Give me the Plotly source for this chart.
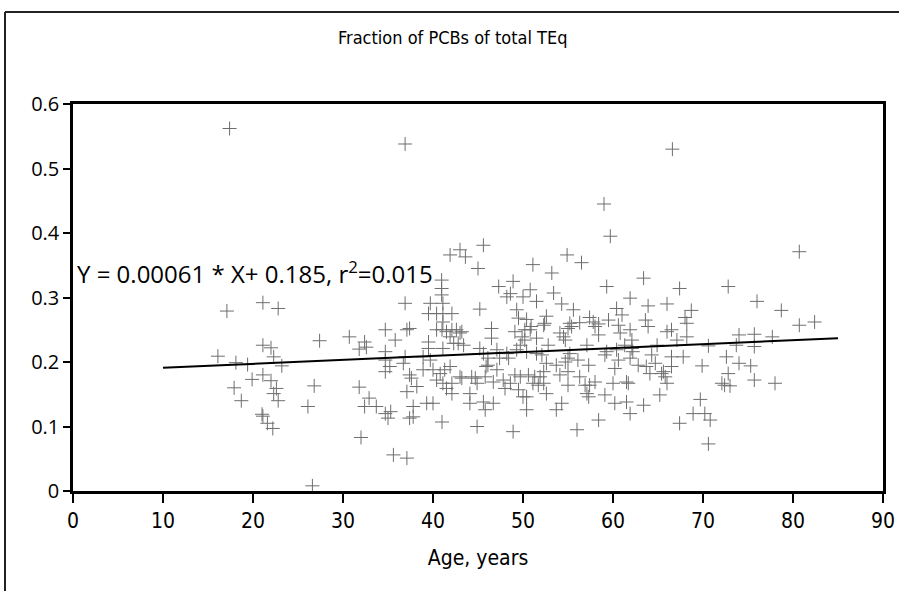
import plotly.graph_objects as go

# ---- data ----
ages = [
    17.4, 17.1, 21.1, 22.8, 16.1, 18.1, 19.4, 21.1, 22.0, 22.3, 19.9, 21.1, 22.0, 22.6, 17.9, 18.7,
    22.3, 22.8, 21.0, 21.1, 21.6, 22.2, 23.2,
    27.4, 26.8, 26.1, 26.6, 30.7, 31.8, 32.4, 32.6, 31.8, 32.9, 32.4, 33.7, 34.7, 35.0, 35.3, 32.0,
    34.7, 35.8, 34.7, 34.7, 35.2, 34.7, 36.9, 36.9, 36.7, 37.1, 37.4, 37.4, 37.6, 38.2, 37.1, 37.8,
    37.8, 37.4, 35.6, 37.1, 36.9,
    40.96, 40.96, 40.96, 41.1, 39.7, 39.5, 40.4, 41.1, 42.1, 41.1, 41.0, 40.4, 41.5, 42.1, 42.6, 43.2,
    39.5, 39.5, 41.1, 42.3, 42.8, 43.4, 38.9, 40.0, 40.8, 41.3, 41.9, 40.4, 41.1, 42.1, 41.5, 42.1,
    43.2, 39.3, 40.0, 41.0, 38.9, 39.7, 41.9, 43.0, 43.6, 45.6, 45.0, 45.2, 47.3, 48.2, 48.9, 48.6,
    49.3, 43.0, 41.9, 45.2, 45.6, 46.1, 47.1, 48.2, 49.3, 47.4, 48.4, 46.1, 45.9, 47.1, 43.0, 44.3,
    44.9, 44.7, 45.8, 46.7, 47.8, 48.6, 44.1, 44.1, 45.6, 46.7, 45.8, 44.9, 48.9, 46.5, 46.5, 48.0,
    59.7, 54.9, 56.5, 51.1, 53.2, 50.8, 50.0, 51.5, 53.4, 54.3, 55.6, 59.3, 63.4, 61.9, 60.4, 61.0,
    63.9, 66.0, 49.5, 50.4, 52.6, 52.4, 52.3, 55.2, 55.0, 55.4, 56.3, 57.4, 57.8, 58.4, 58.0, 59.5,
    60.6, 61.9, 62.1, 60.8, 63.6, 63.9, 66.0, 49.1, 50.2, 50.8, 50.9, 51.5, 49.9, 50.2, 49.7, 54.1,
    54.5, 54.7, 58.4, 52.8, 57.1, 50.4, 51.5, 52.1, 55.2, 55.0, 56.1, 57.3, 59.1, 59.3, 60.4, 60.6,
    60.2, 61.3, 62.1, 62.2, 61.9, 62.8, 63.7, 64.3, 64.1, 64.9, 64.7, 65.6, 66.0, 65.8, 52.6, 53.7,
    54.7, 54.1, 55.0, 49.1, 49.7, 50.6, 51.3, 51.9, 52.3, 51.1, 51.7, 52.3, 49.5, 50.0, 50.4, 52.6,
    50.4, 55.0, 56.3, 56.9, 57.4, 58.0, 57.1, 57.3, 59.1, 60.0, 61.5, 61.7, 60.2, 61.5, 61.9, 63.4,
    65.2, 54.3, 53.7, 56.0, 58.4, 59.0, 66.6, 80.7,
    67.4, 72.8, 76.0, 78.7, 80.7, 82.4, 68.7, 68.0, 68.2, 66.5, 67.1, 68.2, 70.6, 73.7, 74.0, 75.7,
    75.7, 77.7, 65.4, 66.5, 66.5, 67.8, 69.9, 72.6, 74.0, 75.3, 72.8, 72.1, 73.0, 72.4, 75.7, 78.0,
    69.7, 68.9, 70.2, 70.8, 67.4, 70.6,
]
fractions = [
    0.562, 0.279, 0.292, 0.283, 0.209, 0.199, 0.196, 0.226, 0.222, 0.208, 0.173, 0.180, 0.171, 0.159, 0.160, 0.140,
    0.151, 0.140, 0.119, 0.116, 0.105, 0.097, 0.194,
    0.233, 0.163, 0.131, 0.008, 0.239, 0.220, 0.231, 0.223, 0.161, 0.144, 0.131, 0.131, 0.120, 0.113, 0.123, 0.083,
    0.250, 0.234, 0.216, 0.203, 0.193, 0.185, 0.291, 0.208, 0.198, 0.250, 0.252, 0.180, 0.175, 0.162, 0.154, 0.131,
    0.115, 0.113, 0.056, 0.051, 0.538,
    0.327, 0.314, 0.304, 0.291, 0.291, 0.275, 0.275, 0.275, 0.275, 0.262, 0.250, 0.250, 0.247, 0.250, 0.250, 0.247,
    0.231, 0.221, 0.221, 0.229, 0.229, 0.226, 0.188, 0.188, 0.182, 0.188, 0.193, 0.172, 0.167, 0.167, 0.159, 0.151,
    0.175, 0.136, 0.136, 0.107, 0.208, 0.203, 0.366, 0.374, 0.363, 0.381, 0.345, 0.282, 0.317, 0.301, 0.325, 0.306,
    0.281, 0.245, 0.239, 0.221, 0.213, 0.206, 0.219, 0.213, 0.219, 0.206, 0.206, 0.195, 0.193, 0.188, 0.177, 0.177,
    0.167, 0.175, 0.177, 0.169, 0.172, 0.167, 0.151, 0.136, 0.138, 0.136, 0.126, 0.100, 0.092, 0.252, 0.237, 0.159,
    0.395, 0.366, 0.354, 0.351, 0.338, 0.312, 0.301, 0.294, 0.307, 0.290, 0.281, 0.317, 0.330, 0.299, 0.283, 0.273,
    0.287, 0.290, 0.268, 0.266, 0.271, 0.260, 0.257, 0.260, 0.252, 0.255, 0.261, 0.269, 0.262, 0.259, 0.255, 0.265,
    0.257, 0.250, 0.234, 0.245, 0.265, 0.255, 0.247, 0.247, 0.250, 0.250, 0.255, 0.237, 0.239, 0.234, 0.226, 0.245,
    0.239, 0.234, 0.242, 0.226, 0.226, 0.216, 0.213, 0.211, 0.213, 0.206, 0.203, 0.195, 0.211, 0.216, 0.219, 0.203,
    0.190, 0.226, 0.221, 0.216, 0.206, 0.195, 0.193, 0.211, 0.182, 0.226, 0.198, 0.185, 0.167, 0.177, 0.198, 0.195,
    0.200, 0.180, 0.185, 0.180, 0.177, 0.180, 0.177, 0.177, 0.185, 0.167, 0.164, 0.167, 0.157, 0.146, 0.146, 0.151,
    0.126, 0.164, 0.177, 0.164, 0.164, 0.169, 0.151, 0.146, 0.149, 0.167, 0.169, 0.167, 0.136, 0.138, 0.120, 0.133,
    0.149, 0.136, 0.126, 0.095, 0.110, 0.445, 0.530, 0.371,
    0.314, 0.317, 0.294, 0.280, 0.257, 0.262, 0.280, 0.269, 0.260, 0.250, 0.234, 0.239, 0.225, 0.226, 0.242, 0.243,
    0.224, 0.239, 0.182, 0.208, 0.193, 0.208, 0.194, 0.208, 0.198, 0.194, 0.182, 0.167, 0.163, 0.164, 0.172, 0.167,
    0.142, 0.120, 0.120, 0.110, 0.105, 0.073,
]

fit_slope = 0.00061
fit_intercept = 0.185
fit_range = [10, 85]
fit_label = "Y = 0.00061 * X+ 0.185, r<sup>2</sup>=0.015"

title_text = "Fraction of PCBs of total TEq"
x_title = "Age, years"
x_ticks = [0, 10, 20, 30, 40, 50, 60, 70, 80, 90]
y_ticks = [0, 0.1, 0.2, 0.3, 0.4, 0.5, 0.6]
y_tick_labels = ["0", "0.1", "0.2", "0.3", "0.4", "0.5", "0.6"]

fit_y = [fit_slope * x + fit_intercept for x in fit_range]

NARROW = "DejaVu Sans Condensed, Liberation Sans Narrow, sans-serif"
WIDE = "Open Sans, Liberation Sans, Arial, sans-serif"

fig = go.Figure()
fig.add_trace(go.Scatter(
    x=ages, y=fractions, mode="markers",
    marker=dict(symbol="cross-thin", size=10, color="#6e6e6e",
                line=dict(width=1, color="#6e6e6e")),
    showlegend=False, hoverinfo="x+y",
))
fig.add_trace(go.Scatter(
    x=fit_range, y=fit_y, mode="lines",
    line=dict(color="black", width=2), showlegend=False,
))

L, R, T, B = 73, 16, 104, 100
W, H = 899, 591
pw, ph = W - L - R, H - T - B

def px_to_paper_x(px):
    return (px - L) / pw

def px_to_paper_y(py):
    return (H - B - py) / ph

frame_left = px_to_paper_x(5)
frame_top = px_to_paper_y(12)

fig.update_layout(
    width=W, height=H,
    margin=dict(l=L, r=R, t=T, b=B, autoexpand=False),
    paper_bgcolor="white", plot_bgcolor="white",
    font=dict(family=WIDE, color="black"),
    xaxis=dict(
        range=[0, 90], tickvals=x_ticks, ticks="outside", ticklen=9, tickwidth=2,
        tickcolor="black", showline=True, linecolor="black", linewidth=2.5, mirror=True,
        showgrid=False, zeroline=False, automargin=False,
        tickfont=dict(family=NARROW, size=21),
        title=dict(text=x_title, font=dict(family=NARROW, size=21), standoff=19),
    ),
    yaxis=dict(
        range=[0, 0.6], tickvals=y_ticks, ticktext=y_tick_labels, ticks="outside",
        ticklen=7, tickwidth=2, tickcolor="black", showline=True, linecolor="black",
        linewidth=2.5, mirror=True, showgrid=False, zeroline=False, automargin=False,
        tickfont=dict(family=WIDE, size=20),
    ),
    shapes=[
        dict(type="line", xref="paper", yref="paper", x0=frame_left, x1=frame_left,
             y0=frame_top, y1=-0.5, line=dict(color="#222", width=2)),
        dict(type="line", xref="paper", yref="paper", x0=frame_left, x1=1.2,
             y0=frame_top, y1=frame_top, line=dict(color="#222", width=2)),
    ],
    annotations=[
        dict(text=title_text, xref="paper", yref="paper", x=px_to_paper_x(452),
             y=px_to_paper_y(38), xanchor="center", yanchor="middle", showarrow=False,
             font=dict(family=NARROW, size=18)),
        dict(text=fit_label, xref="x", yref="y", x=0.2, y=0.338, xanchor="left",
             yanchor="middle", showarrow=False, font=dict(family=WIDE, size=24)),
    ],
)

fig.write_html(
    "out.html",
    config={"displayModeBar": False},
    post_script="document.body.style.margin='0';document.body.style.overflow='hidden';",
)
